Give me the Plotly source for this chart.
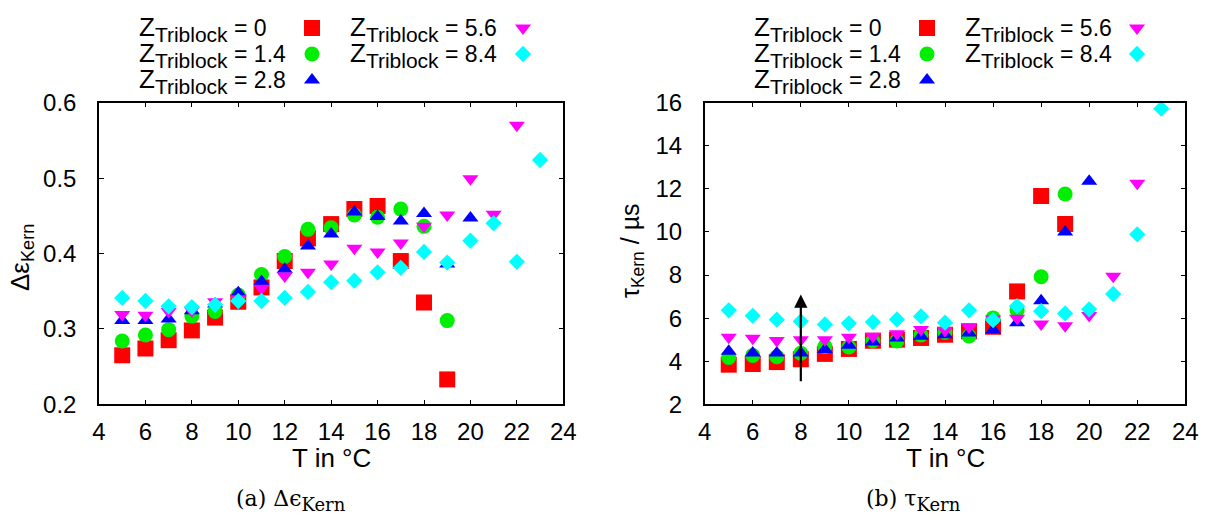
import plotly.graph_objects as go

# ---------------- data ----------------
series_labels = ["0", "1.4", "2.8", "5.6", "8.4"]
series_colors = ["#ff0000", "#00ee00", "#0000ff", "#ff00ff", "#00ffff"]
series_symbols = ["square", "circle", "triangle-up", "triangle-down", "diamond"]
series_sizes = [16, 15, 14, 14, 12.5]

T_z0 = list(range(5, 20))
T_z14 = list(range(5, 20))
T_z28 = list(range(5, 21))
T_z56 = list(range(5, 23))
T_z84 = list(range(5, 24))

# (a) Delta epsilon Kern
deps_z0 = [0.265, 0.274, 0.285, 0.298, 0.315, 0.336, 0.355, 0.390, 0.420, 0.439, 0.459, 0.463, 0.390, 0.335, 0.233]
deps_z14 = [0.284, 0.292, 0.299, 0.317, 0.323, 0.345, 0.372, 0.396, 0.432, 0.434, 0.451, 0.448, 0.459, 0.436, 0.311]
deps_z28 = [0.311, 0.311, 0.313, 0.324, 0.333, 0.348, 0.363, 0.379, 0.410, 0.426, 0.455, 0.449, 0.443, 0.453, 0.386, 0.447]
deps_z56 = [0.319, 0.318, 0.323, 0.324, 0.336, 0.340, 0.354, 0.370, 0.375, 0.386, 0.407, 0.402, 0.414, 0.436, 0.451, 0.499, 0.452, 0.570]
deps_z84 = [0.341, 0.337, 0.330, 0.329, 0.332, 0.337, 0.337, 0.341, 0.349, 0.362, 0.364, 0.375, 0.381, 0.402, 0.388, 0.417, 0.440, 0.389, 0.524]

# (b) tau Kern in microseconds
tau_z0 = [3.84, 3.87, 3.96, 4.09, 4.34, 4.57, 4.95, 5.00, 5.08, 5.23, 5.39, 5.60, 7.24, 11.67, 10.37]
tau_z14 = [4.17, 4.27, 4.21, 4.37, 4.68, 4.66, 4.95, 4.94, 5.22, 5.33, 5.17, 6.01, 6.35, 7.92, 11.76]
tau_z28 = [4.46, 4.38, 4.38, 4.38, 4.54, 4.74, 4.89, 5.08, 5.16, 5.23, 5.31, 5.45, 5.78, 6.81, 10.00, 12.35]
tau_z56 = [5.11, 5.07, 4.96, 5.00, 5.00, 5.11, 5.16, 5.27, 5.47, 5.42, 5.59, 5.96, 5.99, 5.73, 5.65, 6.12, 7.94, 12.26]
tau_z84 = [6.36, 6.11, 5.93, 5.85, 5.71, 5.76, 5.82, 5.94, 6.08, 5.79, 6.36, 5.91, 6.56, 6.32, 6.22, 6.41, 7.12, 9.89, 15.72]

arrow_T = 8
arrow_from = 3.0
arrow_to = 7.1

x_ticks = [4, 6, 8, 10, 12, 14, 16, 18, 20, 22, 24]
y_ticks_a = [0.2, 0.3, 0.4, 0.5, 0.6]
y_ticks_b = [2, 4, 6, 8, 10, 12, 14, 16]

T_all = [T_z0, T_z14, T_z28, T_z56, T_z84]
deps_all = [deps_z0, deps_z14, deps_z28, deps_z56, deps_z84]
tau_all = [tau_z0, tau_z14, tau_z28, tau_z56, tau_z84]

# ---------------- layout helpers ----------------
W, H = 1215, 521
FONT = "Liberation Sans"

def px(x):
    return x / W

def py(y):
    return 1 - y / H

fig = go.Figure()

for i in range(5):
    fig.add_trace(go.Scatter(
        x=T_all[i], y=deps_all[i], mode="markers", xaxis="x", yaxis="y",
        marker=dict(symbol=series_symbols[i], color=series_colors[i], size=series_sizes[i], line=dict(width=0)),
        showlegend=False, cliponaxis=False))
for i in range(5):
    fig.add_trace(go.Scatter(
        x=T_all[i], y=tau_all[i], mode="markers", xaxis="x2", yaxis="y2",
        marker=dict(symbol=series_symbols[i], color=series_colors[i], size=series_sizes[i], line=dict(width=0)),
        showlegend=False, cliponaxis=False))

# legend keys (gnuplot style: text then symbol), on a pixel overlay axis
legend_cfg = [
    dict(cols=[(137, 312), (348, 523)]),
    dict(cols=[(752, 927), (963, 1137)]),
]
row_y = [28, 54, 80]
slots = [(0, 0), (0, 1), (0, 2), (1, 0), (1, 1)]

annotations = []
for panel in legend_cfg:
    for i, (c, r) in enumerate(slots):
        tx, mx = panel["cols"][c]
        fig.add_trace(go.Scatter(
            x=[mx], y=[row_y[r]], mode="markers", xaxis="x3", yaxis="y3",
            marker=dict(symbol=series_symbols[i], color=series_colors[i], size=series_sizes[i], line=dict(width=0)),
            showlegend=False, hoverinfo="skip", cliponaxis=False))
        annotations.append(dict(
            x=tx, y=row_y[r] + 1, xref="x3", yref="y3", xanchor="left", yanchor="middle",
            showarrow=False,
            text=("<span style='font-size:26px'>Z</span><sub>Triblock</sub>"
                  "<span style='font-size:23px'> = " + series_labels[i] + "</span>"),
            font=dict(family=FONT, size=30, color="black")))

# axis titles
annotations += [
    dict(x=331, y=458, xref="x3", yref="y3", text="T in °C", showarrow=False,
         font=dict(family=FONT, size=26, color="black")),
    dict(x=945, y=458, xref="x3", yref="y3", text="T in °C", showarrow=False,
         font=dict(family=FONT, size=26, color="black")),
    dict(x=21, y=258, xref="x3", yref="y3", text="Δε<sub>Kern</sub>", showarrow=False, textangle=-90,
         font=dict(family=FONT, size=26, color="black")),
    dict(x=632, y=251, xref="x3", yref="y3", text="τ<sub>Kern</sub> / µs", showarrow=False, textangle=-90,
         font=dict(family=FONT, size=25, color="black")),
    dict(x=291, y=500, xref="x3", yref="y3", text="(a) Δϵ<sub><span style='font-size:18px'>Kern</span></sub>", showarrow=False,
         font=dict(family="DejaVu Serif", size=22, color="black")),
    dict(x=913, y=500, xref="x3", yref="y3", text="(b) τ<sub><span style='font-size:18px'>Kern</span></sub>", showarrow=False,
         font=dict(family="DejaVu Serif", size=22, color="black")),
    dict(x=arrow_T, y=arrow_to, ax=arrow_T, ay=arrow_from, xref="x2", yref="y2", axref="x2", ayref="y2",
         text="", showarrow=True, arrowhead=2, arrowsize=1.2, arrowwidth=2.2, arrowcolor="black"),
]

ydom = [py(404.3), py(102.7)]
axis_common = dict(showline=True, linecolor="black", linewidth=1.5, mirror="ticks", ticks="inside",
                   ticklen=5, tickwidth=1, tickcolor="black", showgrid=False, zeroline=False,
                   automargin=False,
                   tickfont=dict(family=FONT, size=24, color="black"))

fig.update_layout(
    template="none",
    width=W, height=H, margin=dict(l=0, r=0, t=0, b=0, pad=0, autoexpand=False),
    paper_bgcolor="white", plot_bgcolor="rgba(0,0,0,0)",
    xaxis=dict(domain=[px(99), px(563.3)], range=[4, 24], tickvals=x_ticks, anchor="y",
               ticklabelstandoff=5, **axis_common),
    yaxis=dict(domain=ydom, range=[0.2, 0.6], tickvals=y_ticks_a, ticktext=["0.2", "0.3", "0.4", "0.5", "0.6"],
               anchor="x", ticklabelstandoff=16, **axis_common),
    xaxis2=dict(domain=[px(704.7), px(1185.3)], range=[4, 24], tickvals=x_ticks, anchor="y2",
                ticklabelstandoff=5, **axis_common),
    yaxis2=dict(domain=ydom, range=[2, 16], tickvals=y_ticks_b, anchor="x2", ticklabelstandoff=16, **axis_common),
    xaxis3=dict(domain=[0, 1], range=[0, W], visible=False, anchor="y3", fixedrange=True, automargin=False),
    yaxis3=dict(domain=[0, 1], range=[H, 0], visible=False, anchor="x3", fixedrange=True, automargin=False),
    annotations=annotations,
    showlegend=False,
)

fig.write_html("out.html", config={"displayModeBar": False},
               post_script="document.body.style.margin='0';")
